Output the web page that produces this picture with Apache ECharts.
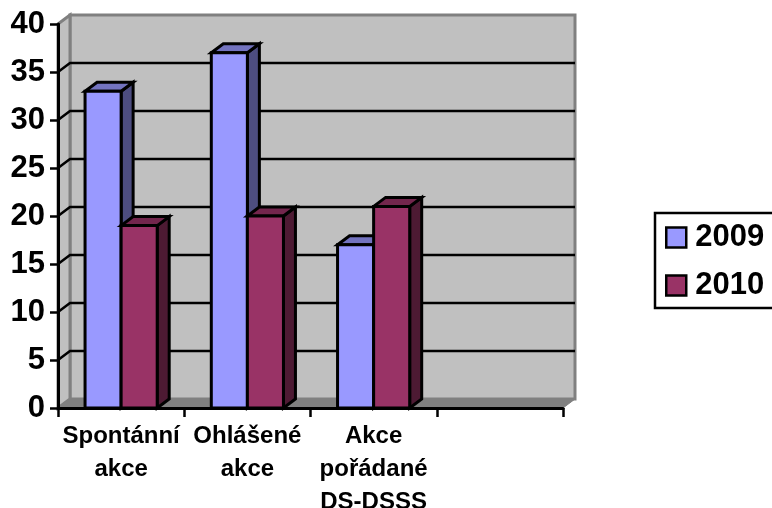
<!DOCTYPE html>
<html><head><meta charset="utf-8">
<style>html,body{margin:0;padding:0;background:#fff}#c{width:772px;height:508px}</style>
<script src="https://cdn.jsdelivr.net/npm/echarts@6/dist/echarts.min.js"></script>
</head><body><div id="c"></div>
<script>
const categories = ['Spontánní\nakce', 'Ohlášené\nakce', 'Akce\npořádané\nDS-DSSS', ''];
const values2009 = [33, 37, 17];
const values2010 = [19, 20, 21];
const gridValues = [0, 5, 10, 15, 20, 25, 30, 35, 40];

const DX = 12, DY = -9;
const FONT = '"Liberation Sans", Arial, sans-serif';

function poly(points, fill, stroke, lw) {
  return { type: 'polygon', shape: { points }, style: { fill, stroke, lineWidth: lw, lineJoin: 'miter' } };
}
function renderWalls(params, api) {
  const v = api.value(0);
  const y = api.coord([0, v])[1];
  const cs = params.coordSys;
  const x0 = cs.x, x1 = cs.x + cs.width;
  const yTop = cs.y, yBot = cs.y + cs.height;
  const children = [];
  if (params.dataIndex === 0) {
    children.push(poly([[x0 + DX, yTop + DY], [x1 + DX, yTop + DY], [x1 + DX, yBot + DY], [x0 + DX, yBot + DY]], '#C0C0C0', '#808080', 3));
    children.push(poly([[x0, yTop], [x0 + DX, yTop + DY], [x0 + DX, yBot + DY], [x0, yBot]], '#C0C0C0', '#808080', 3));
    children.push(poly([[x0, yBot], [x0 + DX, yBot + DY], [x1 + DX, yBot + DY], [x1, yBot]], '#808080', '#808080', 1));
  }
  if (v !== gridValues[0] && v !== gridValues[gridValues.length - 1]) {
    const s = { stroke: '#000', lineWidth: 2.5 };
    children.push({ type: 'polyline', shape: { points: [[x0, y], [x0 + DX, y + DY], [x1 + DX, y + DY]] }, style: Object.assign({ fill: 'none' }, s) });
  }
  return { type: 'group', children };
}
function barRenderer(side, front, top, dark) {
  return function (params, api) {
    const c = api.coord([api.value(0), api.value(1)]);
    const base = api.coord([api.value(0), 0]);
    const w = api.size([1, 0])[0] * 2 / 7;
    const xa = side < 0 ? c[0] - w : c[0], xb = xa + w;
    const yt = c[1], yb = base[1];
    const lw = 3;
    return { type: 'group', children: [
      poly([[xb, yt], [xb + DX, yt + DY], [xb + DX, yb + DY], [xb, yb]], dark, '#000', lw),
      poly([[xa, yt], [xa + DX, yt + DY], [xb + DX, yt + DY], [xb, yt]], top, '#000', lw),
      poly([[xa, yt], [xb, yt], [xb, yb], [xa, yb]], front, '#000', lw)
    ] };
  };
}

const chart = echarts.init(document.getElementById('c'), null, { renderer: 'canvas' });
chart.setOption({
  animation: false,
  backgroundColor: '#fff',
  grid: { left: 58, top: 24, width: 505, height: 384, containLabel: false, outerBoundsMode: 'none' },
  xAxis: {
    type: 'category', data: categories, z: 5,
    axisLine: { show: true, lineStyle: { color: '#000', width: 3 } },
    axisTick: { show: true, alignWithLabel: false, length: 9, lineStyle: { color: '#000', width: 2.5 } },
    axisLabel: { interval: 0, color: '#000', fontFamily: FONT, fontWeight: 'bold', fontSize: 24, lineHeight: 33, margin: 12, hideOverlap: false },
    splitLine: { show: false }
  },
  yAxis: {
    type: 'value', min: 0, max: 40, interval: 5, z: 5,
    axisLine: { show: true, lineStyle: { color: '#000', width: 3 } },
    axisTick: { show: true, length: 8, lineStyle: { color: '#000', width: 2.5 } },
    axisLabel: { color: '#000', fontFamily: FONT, fontWeight: 'bold', fontSize: 31, margin: 13 },
    splitLine: { show: false }
  },
  legend: {
    left: 655, top: 213, orient: 'vertical', data: ['2009', '2010'],
    backgroundColor: '#fff', borderColor: '#000', borderWidth: 2.5,
    padding: [9, 30, 7, 10], itemGap: 17, itemWidth: 20, itemHeight: 20,
    icon: 'rect', selectedMode: false,
    itemStyle: { borderColor: '#000', borderWidth: 2.5 },
    textStyle: { color: '#000', fontFamily: FONT, fontWeight: 'bold', fontSize: 31, lineHeight: 30, padding: [0, 0, 0, 4] }
  },
  series: [
    { type: 'custom', z: 1, silent: true, renderItem: renderWalls, data: gridValues.map(v => [v]), encode: { y: 0 } },
    { type: 'custom', name: '2009', z: 2, silent: true, itemStyle: { color: '#9999FF' },
      renderItem: barRenderer(-1, '#9999FF', '#7373BF', '#4D4D80'),
      data: values2009.map((v, i) => [i, v]), encode: { x: 0, y: 1 } },
    { type: 'custom', name: '2010', z: 3, silent: true, itemStyle: { color: '#993366' },
      renderItem: barRenderer(1, '#993366', '#73264D', '#4D1A33'),
      data: values2010.map((v, i) => [i, v]), encode: { x: 0, y: 1 } }
  ]
});
</script></body></html>
